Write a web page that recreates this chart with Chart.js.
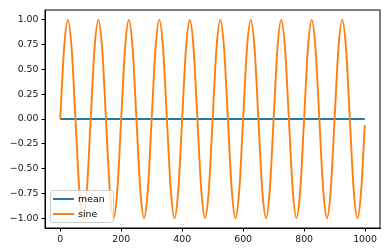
<!DOCTYPE html>
<html>
<head>
<meta charset="utf-8">
<script src="https://cdn.jsdelivr.net/npm/chart.js@4/dist/chart.umd.min.js"></script>
<style>
  body { margin: 0; background: #fff; }
  #wrap { position: relative; width: 390px; height: 252px; }
  #legend {
    position: absolute; left: 50px; top: 190px; width: 62px; height: 31px;
    border: 1px solid #cccccc; border-radius: 3px; background: rgba(255,255,255,0.8);
    font-family: "DejaVu Sans", sans-serif; font-size: 9.4px; color: #000;
  }
  .row { position: absolute; left: 0; height: 12px; }
  .swatch { position: absolute; left: 2px; width: 21px; height: 2px; }
  .label { position: absolute; left: 27px; line-height: 12px; white-space: nowrap; }
</style>
</head>
<body>
<div id="wrap">
  <canvas id="chart" width="390" height="252"></canvas>
  <div id="legend"></div>
</div>
<script>
// --- data ---
const meanX = [0, 999];
const meanY = [0, 0];

const sineX = [
  0, 12.5, 25, 37.5, 50, 62.5, 75, 87.5,
  100, 112.5, 125, 137.5, 150, 162.5, 175, 187.5,
  200, 212.5, 225, 237.5, 250, 262.5, 275, 287.5,
  300, 312.5, 325, 337.5, 350, 362.5, 375, 387.5,
  400, 412.5, 425, 437.5, 450, 462.5, 475, 487.5,
  500, 512.5, 525, 537.5, 550, 562.5, 575, 587.5,
  600, 612.5, 625, 637.5, 650, 662.5, 675, 687.5,
  700, 712.5, 725, 737.5, 750, 762.5, 775, 787.5,
  800, 812.5, 825, 837.5, 850, 862.5, 875, 887.5,
  900, 912.5, 925, 937.5, 950, 962.5, 975, 987.5,
  999
];
const sineY = [
  0, 0.71, 1, 0.71, 0, -0.71, -1, -0.71,
  0, 0.71, 1, 0.71, 0, -0.71, -1, -0.71,
  0, 0.71, 1, 0.71, 0, -0.71, -1, -0.71,
  0, 0.71, 1, 0.71, 0, -0.71, -1, -0.71,
  0, 0.71, 1, 0.71, 0, -0.71, -1, -0.71,
  0, 0.71, 1, 0.71, 0, -0.71, -1, -0.71,
  0, 0.71, 1, 0.71, 0, -0.71, -1, -0.71,
  0, 0.71, 1, 0.71, 0, -0.71, -1, -0.71,
  0, 0.71, 1, 0.71, 0, -0.71, -1, -0.71,
  0, 0.71, 1, 0.71, 0, -0.71, -1, -0.71,
  -0.06
];

const xTicks = [0, 200, 400, 600, 800, 1000];
const yTicks = [-1, -0.75, -0.5, -0.25, 0, 0.25, 0.5, 0.75, 1];

const seriesLabels = ['mean', 'sine'];
const seriesColors = ['#1f77b4', '#ff7f0e'];

const toPoints = (xs, ys) => xs.map((x, i) => ({ x: x, y: ys[i] }));
const tickFont = { family: 'DejaVu Sans', size: 9.4 };

// black frame round the plot area, like matplotlib spines
const framePlugin = {
  id: 'frame',
  afterDraw(chart) {
    const a = chart.chartArea;
    const c = chart.ctx;
    c.save();
    c.strokeStyle = '#000';
    c.lineWidth = 1;
    c.strokeRect(a.left, a.top, a.right - a.left, a.bottom - a.top);
    c.restore();
  }
};

const chart = new Chart(document.getElementById('chart').getContext('2d'), {
  type: 'line',
  data: {
    datasets: [
      { label: seriesLabels[0], data: toPoints(meanX, meanY), borderColor: seriesColors[0],
        borderWidth: 2, pointRadius: 0, tension: 0, order: 1 },
      { label: seriesLabels[1], data: toPoints(sineX, sineY), borderColor: seriesColors[1],
        borderWidth: 1.9, pointRadius: 0, cubicInterpolationMode: 'monotone', order: 0 }
    ]
  },
  options: {
    responsive: false,
    animation: false,
    layout: { padding: { left: 0, top: 10, right: 10, bottom: 0 } },
    plugins: { legend: { display: false }, tooltip: { enabled: false } },
    scales: {
      x: {
        type: 'linear', min: -49.95, max: 1048.95,
        afterBuildTicks: s => { s.ticks = xTicks.map(v => ({ value: v })); },
        afterFit: s => { s.height = 24; },
        grid: { drawOnChartArea: false, tickLength: 3.5, tickColor: '#000', tickWidth: 1 },
        border: { color: '#000', width: 1 },
        ticks: { font: tickFont, color: '#111', padding: 2, maxRotation: 0,
                 callback: v => String(v) }
      },
      y: {
        type: 'linear', min: -1.1, max: 1.1,
        afterBuildTicks: s => { s.ticks = yTicks.map(v => ({ value: v })); },
        afterFit: s => { s.width = 45; },
        grid: { drawOnChartArea: false, tickLength: 3.5, tickColor: '#000', tickWidth: 1 },
        border: { color: '#000', width: 1 },
        ticks: { font: tickFont, color: '#111', padding: 3,
                 callback: v => v.toFixed(2).replace('-', '\u2212') }
      }
    }
  },
  plugins: [framePlugin]
});

// legend box in the lower left corner
const legend = document.getElementById('legend');
chart.data.datasets.forEach((ds, i) => {
  const row = document.createElement('div');
  row.className = 'row';
  row.style.top = (1.5 + i * 15.4) + 'px';
  row.innerHTML = '<div class="swatch" style="top:5px;background:' + ds.borderColor + '"></div>' +
                  '<div class="label">' + ds.label + '</div>';
  legend.appendChild(row);
});
</script>
</body>
</html>
